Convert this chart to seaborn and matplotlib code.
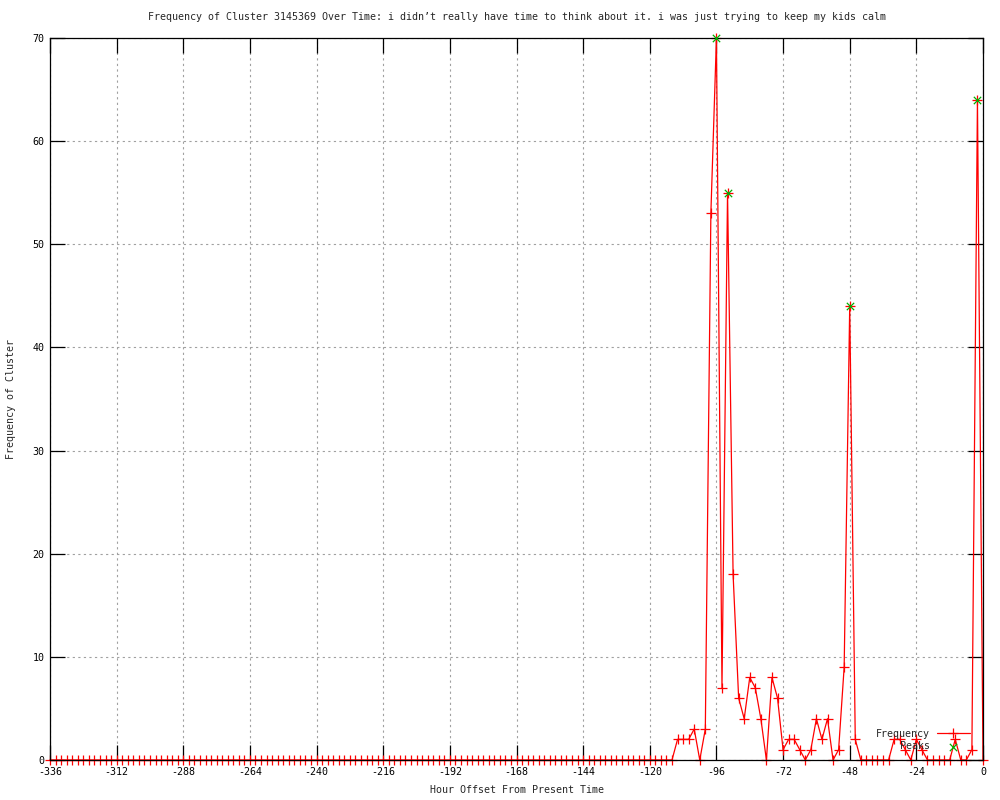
import matplotlib
matplotlib.use("Agg")
import matplotlib.pyplot as plt
import seaborn as sns
import pandas as pd

title = "Frequency of Cluster 3145369 Over Time: i didn\u2019t really have time to think about it. i was just trying to keep my kids calm"
x_label = "Hour Offset From Present Time"
y_label = "Frequency of Cluster"

hours = list(range(-336, 1, 2))
frequency = [
    0, 0, 0, 0, 0, 0, 0, 0, 0, 0, 0, 0, 0, 0, 0, 0, 0, 0, 0, 0,
    0, 0, 0, 0, 0, 0, 0, 0, 0, 0, 0, 0, 0, 0, 0, 0, 0, 0, 0, 0,
    0, 0, 0, 0, 0, 0, 0, 0, 0, 0, 0, 0, 0, 0, 0, 0, 0, 0, 0, 0,
    0, 0, 0, 0, 0, 0, 0, 0, 0, 0, 0, 0, 0, 0, 0, 0, 0, 0, 0, 0,
    0, 0, 0, 0, 0, 0, 0, 0, 0, 0, 0, 0, 0, 0, 0, 0, 0, 0, 0, 0,
    0, 0, 0, 0, 0, 0, 0, 0, 0, 0, 0, 0, 0,
    2, 2, 2, 3, 0, 3, 53, 70, 7, 55, 18, 6, 4, 8, 7, 4, 0, 8, 6, 1,
    2, 2, 1, 0, 1, 4, 2, 4, 0, 1, 9, 44, 2, 0, 0, 0, 0, 0, 0, 2,
    2, 1, 0, 2, 1, 0, 0, 0, 0, 0, 2, 0, 0, 1, 64, 0,
]
peak_hours = [-96, -92, -48, -2]
peak_values = [70, 55, 44, 64]

x_ticks = list(range(-336, 1, 24))
y_ticks = list(range(0, 71, 10))

df = pd.DataFrame({"hour": hours, "freq": frequency})
peaks = pd.DataFrame({"hour": peak_hours, "freq": peak_values})

sns.set_style("white")
plt.rcParams["font.family"] = ["DejaVu Sans Mono"]
plt.rcParams["axes.unicode_minus"] = False

fig = plt.figure(figsize=(10, 8), dpi=100)
ax = fig.add_axes([0.05, 0.05, 0.933, 0.9025])

sns.lineplot(data=df, x="hour", y="freq", ax=ax, color="red", lw=0.9,
             marker="+", markersize=7, markeredgewidth=0.9,
             markeredgecolor="red", markerfacecolor="red", label="Frequency",
             zorder=2, clip_on=False)
sns.scatterplot(data=peaks, x="hour", y="freq", ax=ax, color="#00b000",
                marker="x", s=28, linewidth=0.9, label="    Peaks", zorder=3,
                clip_on=False)

ax.set_xlim(-336, 0)
ax.set_ylim(0, 70)
ax.set_xticks(x_ticks)
ax.set_yticks(y_ticks)
ax.grid(True, color="#a0a0a0", linestyle=(0, (2, 3)), linewidth=0.8)
ax.set_axisbelow(True)
ax.tick_params(direction="in", length=11, width=0.9, top=True, right=True,
               bottom=True, left=True, labelsize=7.2, colors="black", pad=5)
ax.tick_params(axis="y", pad=4)
for sp in ax.spines.values():
    sp.set_color("black")
    sp.set_linewidth(0.9)
    sp.set_zorder(2.5)

ax.set_title(title, fontsize=7.2, pad=13)
ax.set_xlabel(x_label, fontsize=7.2, labelpad=6)
ax.set_ylabel(y_label, fontsize=7.2, labelpad=12)

ax.legend(loc="lower right", bbox_to_anchor=(0.986, 0.012), frameon=False,
          markerfirst=False, fontsize=7.2, handlelength=3.3, handletextpad=0.7,
          borderpad=0, labelspacing=0.25, borderaxespad=0)

fig.savefig("out.png", dpi=100, facecolor="white")
